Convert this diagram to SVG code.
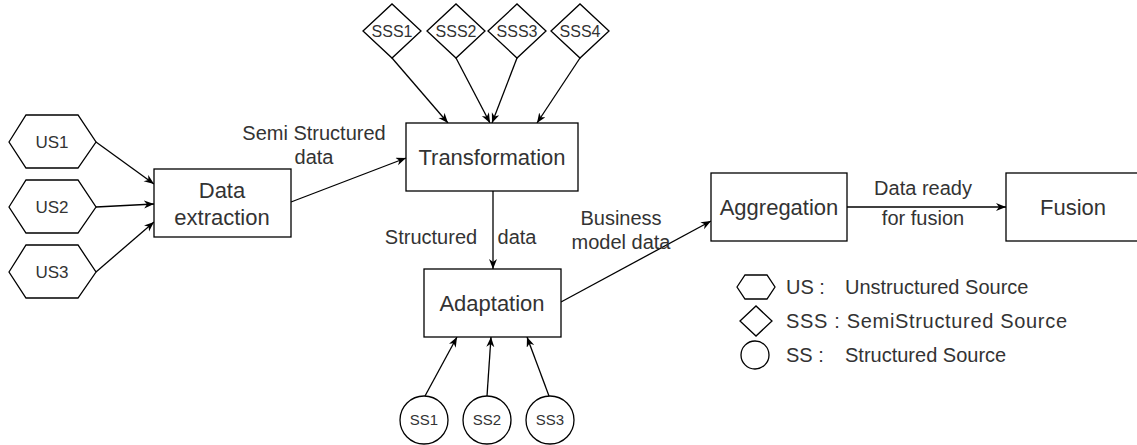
<svg xmlns="http://www.w3.org/2000/svg" width="1137" height="445" viewBox="0 0 1137 445">
  <style>
    .shape { fill: #ffffff; stroke: #000000; stroke-width: 1.3; }
    .edge { fill: none; stroke: #000000; stroke-width: 1.3; marker-end: url(#arrow); }
    text { font-family: "Liberation Sans", Arial, Helvetica, sans-serif; fill: #333333; }
    .node { font-size: 22px; text-anchor: middle; }
    .src { font-size: 17px; text-anchor: middle; }
    .sss { font-size: 16px; text-anchor: middle; }
    .ss { font-size: 15px; text-anchor: middle; }
    .lbl { font-size: 20px; text-anchor: middle; }
    .legend { font-size: 20px; }
  </style>
  <defs>
    <marker id="arrow" markerUnits="userSpaceOnUse" markerWidth="12" markerHeight="10" refX="10" refY="4" orient="auto">
      <path d="M0,0 L10,4 L0,8 L3,4 Z" fill="#000000"/>
    </marker>
  </defs>

  <rect width="1137" height="445" fill="#ffffff"/>

  <!-- connectors -->
  <g id="connectors">
    <line class="edge" x1="96" y1="142" x2="154" y2="184"/>
    <line class="edge" x1="96" y1="207" x2="154" y2="204"/>
    <line class="edge" x1="96" y1="272" x2="154" y2="222"/>
    <line class="edge" x1="291" y1="202" x2="406" y2="158"/>
    <line class="edge" x1="392" y1="58" x2="448" y2="123"/>
    <line class="edge" x1="456" y1="58" x2="490" y2="123"/>
    <line class="edge" x1="517" y1="58" x2="492" y2="123"/>
    <line class="edge" x1="580" y1="58" x2="537" y2="123"/>
    <line class="edge" x1="493" y1="191" x2="493" y2="269"/>
    <line class="edge" x1="425" y1="396" x2="457" y2="337"/>
    <line class="edge" x1="487" y1="396" x2="491" y2="337"/>
    <line class="edge" x1="549" y1="396" x2="527" y2="337"/>
    <line class="edge" x1="561" y1="302" x2="711" y2="221"/>
    <line class="edge" x1="847" y1="207" x2="1006" y2="207"/>
    <!-- edge labels -->
    <text class="lbl" x="314" y="140">Semi Structured</text>
    <text class="lbl" x="314" y="164">data</text>
    <text class="lbl"><tspan x="431" y="244">Structured</tspan><tspan x="517" y="244">data</tspan></text>
    <text class="lbl" x="621" y="225">Business</text>
    <text class="lbl" x="621" y="249">model data</text>
    <text class="lbl" x="923" y="195">Data ready</text>
    <text class="lbl" x="923" y="225">for fusion</text>
  </g>

  <!-- unstructured sources -->
  <g id="us1">
    <polygon class="shape" points="9,142 26,115 78,115 96,142 78,168 26,168"/>
    <text class="src" x="52" y="148">US1</text>
  </g>
  <g id="us2">
    <polygon class="shape" points="9,207 26,180 78,180 96,207 78,233 26,233"/>
    <text class="src" x="52" y="213">US2</text>
  </g>
  <g id="us3">
    <polygon class="shape" points="9,272 26,245 78,245 96,272 78,298 26,298"/>
    <text class="src" x="52" y="278">US3</text>
  </g>

  <!-- semi-structured sources -->
  <g id="sss1">
    <polygon class="shape" points="363,31 392,4 421,31 392,58"/>
    <text class="sss" x="392" y="37">SSS1</text>
  </g>
  <g id="sss2">
    <polygon class="shape" points="427,31 456,4 485,31 456,58"/>
    <text class="sss" x="456" y="37">SSS2</text>
  </g>
  <g id="sss3">
    <polygon class="shape" points="488,31 517,4 546,31 517,58"/>
    <text class="sss" x="517" y="37">SSS3</text>
  </g>
  <g id="sss4">
    <polygon class="shape" points="551,31 580,4 609,31 580,58"/>
    <text class="sss" x="580" y="37">SSS4</text>
  </g>

  <!-- structured sources -->
  <g id="ss1">
    <circle class="shape" cx="424" cy="420" r="24"/>
    <text class="ss" x="424" y="425">SS1</text>
  </g>
  <g id="ss2">
    <circle class="shape" cx="487" cy="420" r="24"/>
    <text class="ss" x="487" y="425">SS2</text>
  </g>
  <g id="ss3">
    <circle class="shape" cx="550" cy="420" r="24"/>
    <text class="ss" x="550" y="425">SS3</text>
  </g>

  <!-- processing steps -->
  <g id="data-extraction">
    <rect class="shape" x="154" y="169" width="137" height="68"/>
    <text class="node" x="222" y="198">Data</text>
    <text class="node" x="222" y="225">extraction</text>
  </g>
  <g id="transformation">
    <rect class="shape" x="406" y="123" width="172" height="68"/>
    <text class="node" x="492" y="165">Transformation</text>
  </g>
  <g id="adaptation">
    <rect class="shape" x="424" y="269" width="137" height="68"/>
    <text class="node" x="492" y="311">Adaptation</text>
  </g>
  <g id="aggregation">
    <rect class="shape" x="711" y="173" width="136" height="68"/>
    <text class="node" x="779" y="215">Aggregation</text>
  </g>
  <g id="fusion">
    <rect class="shape" x="1006" y="173" width="136" height="68"/>
    <text class="node" x="1073" y="215">Fusion</text>
  </g>

  <!-- legend -->
  <g id="legend">
    <polygon class="shape" points="737,287 745,275 767,275 775,287 767,299 745,299"/>
    <text class="legend" x="786" y="294">US :</text>
    <text class="legend" x="845" y="294">Unstructured Source</text>
    <polygon class="shape" points="740,321 756,306 772,321 756,336"/>
    <text class="legend" x="786" y="328" textLength="281" lengthAdjust="spacing">SSS : SemiStructured Source</text>
    <circle class="shape" cx="755" cy="355" r="14"/>
    <text class="legend" x="786" y="362">SS :</text>
    <text class="legend" x="845" y="362">Structured Source</text>
  </g>
</svg>
